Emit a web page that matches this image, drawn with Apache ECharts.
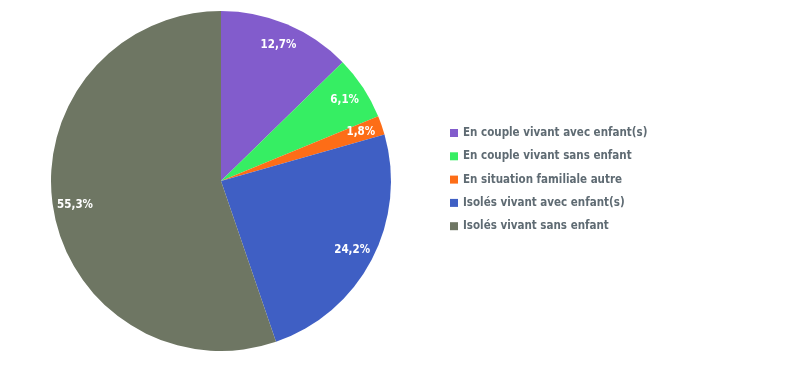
<!DOCTYPE html>
<html><head><meta charset="utf-8">
<script src="https://cdn.jsdelivr.net/npm/echarts@6/dist/echarts.min.js"></script>
<style>html,body{margin:0;padding:0;background:#fff}#c{width:800px;height:369px}</style>
</head><body><div id="c"></div>
<script>
const categories = ["En couple vivant avec enfant(s)","En couple vivant sans enfant","En situation familiale autre","Isolés vivant avec enfant(s)","Isolés vivant sans enfant"];
const values = [12.7, 6.1, 1.8, 24.2, 55.3];
const colors = ["#825ccc","#36ee63","#fd6d17","#3f5fc4","#6e7663"];
const FONT = "'DejaVu Sans Condensed','Roboto',sans-serif";
const data = categories.map((n,i)=>({name:n,value:values[i],itemStyle:{color:colors[i]}}));
const chart = echarts.init(document.getElementById('c'));
chart.setOption({
  animation:false,
  legend:{orient:'vertical',left:450,top:126,itemWidth:8,itemHeight:8,itemGap:9.3,itemStyle:{borderWidth:0},icon:'rect',padding:[0,0,0,0],
    textStyle:{color:'#5f6b73',fontFamily:FONT,fontWeight:'bold',fontSize:11.5,lineHeight:14},
    data:categories},
  series:[
    {type:'pie',center:[221,181],radius:[0,170],startAngle:90,clockwise:true,
     label:{show:false},labelLine:{show:false},data:data,silent:true},
    {type:'pie',center:[221,181],radius:[120,170],startAngle:90,clockwise:true,silent:true,
     itemStyle:{color:'transparent'},labelLine:{show:false},
     label:{show:true,position:'inside',color:'#fff',fontFamily:FONT,fontWeight:'bold',fontSize:11.5,
       formatter:p=>String(p.value).replace('.',',')+'%'},
     data:categories.map((n,i)=>({name:n,value:values[i],itemStyle:{color:'transparent'}}))}
  ]
});
</script></body></html>
